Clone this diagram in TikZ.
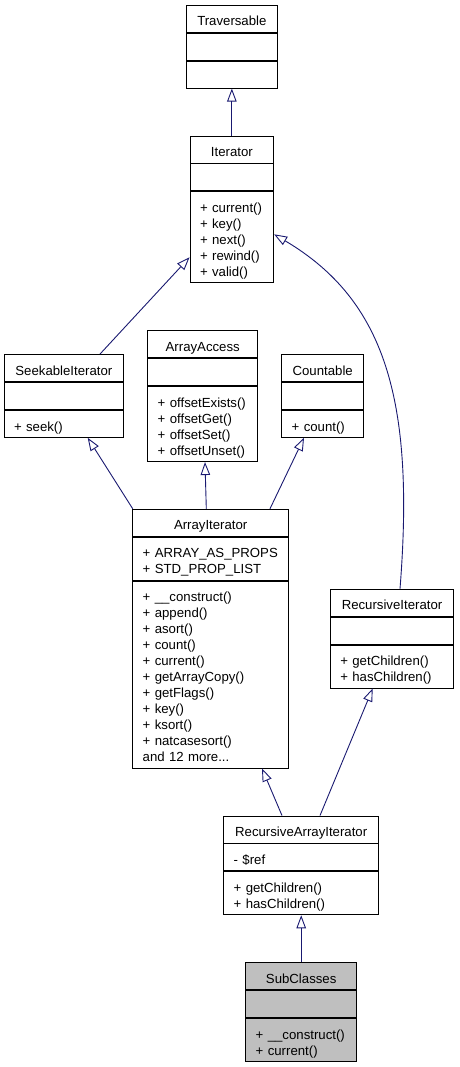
\documentclass[tikz,border=0pt]{standalone}
\usepackage{fontspec}
\setmainfont{Liberation Sans}
\usepackage{xcolor}
\usetikzlibrary{arrows.meta, positioning}

\definecolor{edgeblue}{HTML}{191970}
\definecolor{subgray}{HTML}{BFBFBF}
\newcommand\topstrut{\rule[-3pt]{0pt}{20.4pt}}
\newcommand\botstrut{\rule[-3pt]{0pt}{3pt}}
\hyphenpenalty=10000
\exhyphenpenalty=10000

\begin{document}
\begin{tikzpicture}[
  x=1pt, y=-1pt,
  part/.style={rectangle, draw, fill=white, line width=0.9pt, inner xsep=10pt, inner ysep=3.3pt,
    align=left, font=\fontsize{13.2}{16}\selectfont,
    execute at begin node=\topstrut, execute at end node=\botstrut},
  head/.style={part, align=center},
  inh/.style={-{Triangle[open, length=13pt, width=9.5pt]}, draw=edgeblue, line width=0.9pt}
]
\useasboundingbox (0,0) rectangle (459,1067);

% Top: Traversable and Iterator
\node[head, text width=71.7pt] (trav) at (231.85, 18.8) {Traversable};
\node[part, text width=71.7pt, below=0pt of trav] (travattr) {};
\node[part, text width=71.7pt, below=0pt of travattr] (travmeth) {};

\node[head, text width=63.7pt] (iter) at (231.85, 149.5) {Iterator};
\node[part, text width=63.7pt, below=0pt of iter] (iterattr) {};
\node[part, text width=63.7pt, below=0pt of iterattr] (itermeth) {+~current()\\+~key()\\+~next()\\+~rewind()\\+~valid()};

% Middle row: interfaces
\node[head, text width=99.7pt] (seek) at (63.85, 368) {SeekableIterator};
\node[part, text width=99.7pt, below=0pt of seek] (seekattr) {};
\node[part, text width=99.7pt, below=0pt of seekattr] (seekmeth) {+~seek()};

\node[head, text width=90pt] (acc) at (202.7, 344.3) {ArrayAccess};
\node[part, text width=90pt, below=0pt of acc] (accattr) {};
\node[part, text width=90pt, below=0pt of accattr] (accmeth) {+~offsetExists()\\+~offsetGet()\\+~offsetSet()\\+~offsetUnset()};

\node[head, text width=62pt] (cnt) at (322.7, 368) {Countable};
\node[part, text width=62pt, below=0pt of cnt] (cntattr) {};
\node[part, text width=62pt, below=0pt of cntattr] (cntmeth) {+~count()};

% ArrayIterator and RecursiveIterator
\node[head, text width=136pt] (arrit) at (210.7, 522.7) {ArrayIterator};
\node[part, text width=136pt, below=0pt of arrit] (arritattr) {+~ARRAY\_AS\_PROPS\\+~STD\_PROP\_LIST};
\node[part, text width=136pt, below=0pt of arritattr] (arritmeth) {+~\_\_construct()\\+~append()\\+~asort()\\+~count()\\+~current()\\+~getArrayCopy()\\+~getFlags()\\+~key()\\+~ksort()\\+~natcasesort()\\and 12 more...};

\node[head, text width=103.4pt] (recit) at (392, 602.7) {RecursiveIterator};
\node[part, text width=103.4pt, below=0pt of recit] (recitattr) {};
\node[part, text width=103.4pt, below=0pt of recitattr] (recitmeth) {+~getChildren()\\+~hasChildren()};

% Bottom: RecursiveArrayIterator and SubClasses
\node[head, text width=135pt] (rai) at (301.2, 829.5) {RecursiveArrayIterator};
\node[part, text width=135pt, below=0pt of rai] (raiattr) {-~\$ref};
\node[part, text width=135pt, below=0pt of raiattr] (raimeth) {+~getChildren()\\+~hasChildren()};

\node[head, fill=subgray, text width=91pt] (sub) at (301.2, 976) {SubClasses};
\node[part, fill=subgray, text width=91pt, below=0pt of sub] (subattr) {};
\node[part, fill=subgray, text width=91pt, below=0pt of subattr] (submeth) {+~\_\_construct()\\+~current()};

% Inheritance
\draw[inh] (iter.north) -- (travmeth.south);
\draw[inh] ([xshift=36.15pt]seek.north) -- ([yshift=-20pt]itermeth.west);
\draw[inh] ([xshift=8pt]recit.north) .. controls (415,400) and (385,300) .. ([yshift=3pt]itermeth.east);
\draw[inh] ([xshift=-78pt]arrit.north) -- ([xshift=23.85pt]seekmeth.south);
\draw[inh] ([xshift=-4.4pt]arrit.north) -- ([xshift=2.3pt]accmeth.south);
\draw[inh] ([xshift=59.3pt]arrit.north) -- ([xshift=-18.7pt]cntmeth.south);
\draw[inh] ([xshift=-19.2pt]rai.north) -- ([xshift=51.3pt]arritmeth.south);
\draw[inh] ([xshift=18.8pt]rai.north) -- ([xshift=-19.3pt]recitmeth.south);
\draw[inh] (sub.north) -- (raimeth.south);

\end{tikzpicture}
\end{document}
